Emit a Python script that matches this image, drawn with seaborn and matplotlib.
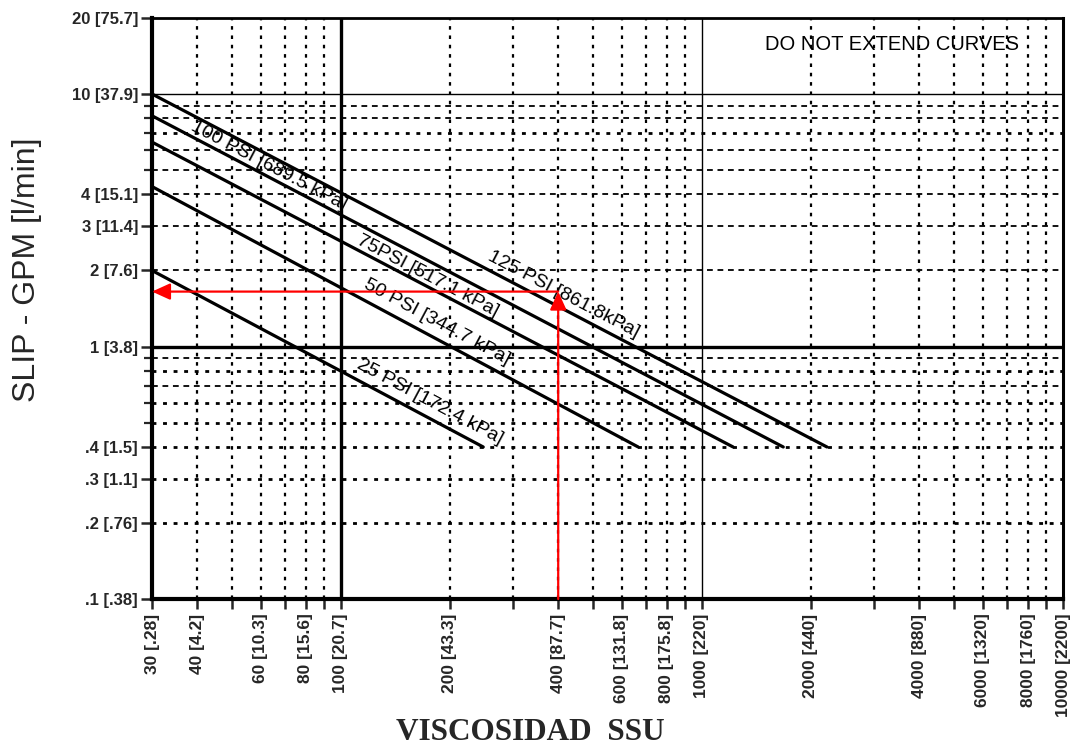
import numpy as np
import pandas as pd
import matplotlib
matplotlib.use("Agg")
import matplotlib.pyplot as plt
import seaborn as sns
from matplotlib.ticker import FixedLocator, FixedFormatter, NullFormatter

# ---------------- data ----------------
pressures = ["125 PSI", "100 PSI", "75 PSI", "50 PSI", "25 PSI"]
visc_start = [30, 30, 30, 30, 30]
visc_end = [2220, 1680, 1220, 666, 248]
slip_start = [10.0, 8.2, 6.45, 4.3, 2.0]
slip_end = [0.4, 0.4, 0.4, 0.4, 0.4]

line_labels = ["125 PSI [861.8kPa]", "100 PSI [689.5 kPa]", "75PSI [517.1 kPa]",
               "50 PSI [344.7 kPa]", "25 PSI [172.4 kPa]"]
label_visc = [415, 63, 174, 184, 177]
label_slip = [1.61, 5.18, 1.91, 1.245, 0.605]

ref_visc = 400
ref_slip = 1.65

x_ticks = [30, 40, 60, 80, 100, 200, 400, 600, 800, 1000, 2000, 4000, 6000, 8000, 10000]
x_ticklabels = ["30 [.28]", "40 [4.2]", "60 [10.3]", "80 [15.6]", "100 [20.7]", "200 [43.3]",
                "400 [87.7]", "600 [131.8]", "800 [175.8]", "1000 [220]", "2000 [440]",
                "4000 [880]", "6000 [1320]", "8000 [1760]", "10000 [2200]"]
x_minor = [50, 70, 90, 300, 500, 700, 900, 3000, 5000, 7000, 9000]
y_ticks = [0.1, 0.2, 0.3, 0.4, 1, 2, 3, 4, 10, 20]
y_ticklabels = [".1 [.38]", ".2 [.76]", ".3 [1.1]", ".4 [1.5]", "1 [3.8]", "2 [7.6]",
                "3 [11.4]", "4 [15.1]", "10 [37.9]", "20 [75.7]"]
y_minor = [0.5, 0.6, 0.7, 0.8, 0.9, 5, 6, 7, 8, 9]

# grid layout
vgrid = [40, 50, 60, 70, 80, 90, 200, 300, 400, 500, 600, 700, 800, 900,
         2000, 3000, 4000, 5000, 6000, 7000, 8000, 9000]
hgrid_dashed = [9, 8, 6, 5, 4, 3, 2, 0.9, 0.7]
hgrid_dotted = [7, 0.8, 0.6, 0.5, 0.4, 0.3, 0.2]

# ---------------- figure ----------------
sns.set_style("white")
plt.rcParams["font.family"] = ["Liberation Sans", "DejaVu Sans"]

fig = plt.figure(figsize=(10.75, 7.49), dpi=100)
ax = fig.add_axes([152 / 1075, 1 - 599 / 749, (1063 - 152) / 1075, (599 - 18) / 749])

rows = []
for p, xs, xe, ys, ye in zip(pressures, visc_start, visc_end, slip_start, slip_end):
    rows.append({"pressure": p, "viscosity": xs, "slip": ys})
    rows.append({"pressure": p, "viscosity": xe, "slip": ye})
df = pd.DataFrame(rows)

ax.set_xscale("log")
ax.set_yscale("log")
ax.set_xlim(30, 10000)
ax.set_ylim(0.1, 20)

# grid
for v in vgrid:
    ax.axvline(v, color="black", lw=1.6, ls=(0, (1.6, 2.6)), zorder=1)
for h in hgrid_dashed:
    ax.axhline(h, color="black", lw=1.3, ls=(0, (3.2, 2.6)), zorder=1)
for h in hgrid_dotted:
    ax.axhline(h, color="black", lw=2.0, ls=(0, (1.4, 2.4)), zorder=1)
ax.axvline(100, color="black", lw=2.4, zorder=2)
ax.axvline(1000, color="black", lw=1.0, zorder=2)
ax.axhline(1, color="black", lw=2.4, zorder=2)
ax.axhline(10, color="black", lw=1.0, zorder=2)

sns.lineplot(data=df, x="viscosity", y="slip", hue="pressure", palette=["black"] * 5,
             estimator=None, sort=False, legend=False, lw=2.3, ax=ax, zorder=3)

ax.set_xlim(30, 10000)
ax.set_ylim(0.1, 20)

# line labels, rotated along the curves
for lab, lx, ly, xs, xe, ys, ye in zip(line_labels, label_visc, label_slip,
                                       visc_start, visc_end, slip_start, slip_end):
    p0 = ax.transData.transform((xs, ys))
    p1 = ax.transData.transform((xe, ye))
    ang = np.degrees(np.arctan2(p1[1] - p0[1], p1[0] - p0[0]))
    ax.text(lx, ly, lab, rotation=ang, rotation_mode="anchor", ha="center", va="center",
            fontsize=14, color="black", zorder=4)

# red reading arrows
ax.annotate("", xy=(ref_visc, ref_slip), xytext=(ref_visc, 0.1),
            arrowprops=dict(arrowstyle="-|>,head_length=1.1,head_width=0.5", mutation_scale=10,
                            color="red", lw=1.6, shrinkA=0, shrinkB=0), zorder=5)
ax.annotate("", xy=(30, ref_slip), xytext=(ref_visc, ref_slip),
            arrowprops=dict(arrowstyle="-|>,head_length=1.1,head_width=0.5", mutation_scale=10,
                            color="red", lw=1.6, shrinkA=0, shrinkB=0), zorder=5)

ax.text(0.812, 0.955, "DO NOT EXTEND CURVES", transform=ax.transAxes, ha="center",
        va="center", fontsize=14.5, color="black")

# ticks
ax.xaxis.set_major_locator(FixedLocator(x_ticks))
ax.xaxis.set_major_formatter(FixedFormatter(x_ticklabels))
ax.xaxis.set_minor_locator(FixedLocator(x_minor))
ax.xaxis.set_minor_formatter(NullFormatter())
ax.yaxis.set_major_locator(FixedLocator(y_ticks))
ax.yaxis.set_major_formatter(FixedFormatter(y_ticklabels))
ax.yaxis.set_minor_locator(FixedLocator(y_minor))
ax.yaxis.set_minor_formatter(NullFormatter())

ax.tick_params(axis="x", which="major", direction="out", length=7.5, width=1.8, pad=3,
               labelsize=12.5, labelrotation=90, bottom=True, top=False)
ax.tick_params(axis="x", which="minor", direction="out", length=7.5, width=1.8,
               bottom=True, top=False)
ax.tick_params(axis="y", which="major", direction="out", length=8, width=1.8, pad=2,
               labelsize=12, left=True, right=False)
ax.tick_params(axis="y", which="minor", direction="out", length=6, width=1.6,
               left=True, right=False)
for t in ax.get_xticklabels() + ax.get_yticklabels():
    t.set_fontweight("bold")

for side, lw in [("left", 3.0), ("bottom", 3.0), ("top", 2.0), ("right", 2.2)]:
    ax.spines[side].set_visible(True)
    ax.spines[side].set_color("black")
    ax.spines[side].set_linewidth(lw)

ax.set_xlabel("")
ax.set_ylabel("")
fig.text(27 / 1075, 1 - 270 / 749, "SLIP - GPM [l/min]", rotation=90, ha="center",
         va="center", fontsize=23)
fig.text(530 / 1075, 1 - 733 / 749, "VISCOSIDAD  SSU", ha="center", va="center",
         fontsize=22.5, fontweight="bold", family=["Liberation Serif", "DejaVu Serif"])

fig.savefig("out.png", dpi=100)
